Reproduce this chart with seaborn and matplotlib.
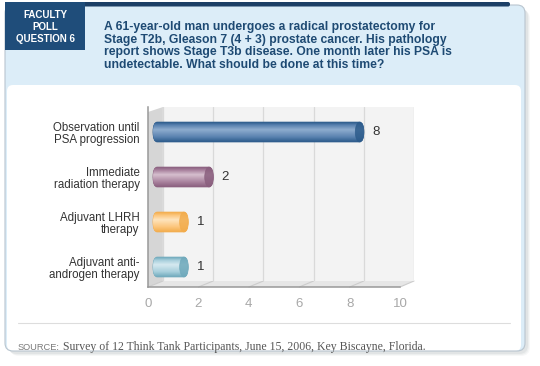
import numpy as np
import matplotlib
matplotlib.use("Agg")
import matplotlib.pyplot as plt
import seaborn as sns
from matplotlib.patches import FancyBboxPatch, Rectangle, Polygon, Ellipse
from matplotlib.colors import LinearSegmentedColormap

# data
categories = ["Observation until\nPSA progression", "Immediate\nradiation therapy",
              "Adjuvant LHRH\ntherapy", "Adjuvant anti-\nandrogen therapy"]
votes = [8, 2, 1, 1]
x_ticks = [0, 2, 4, 6, 8, 10]

# cylinder shades: dark edge, body, highlight
bar_base = ["#5a82b0", "#a9829e", "#fcc67c", "#a6cedb"]
bar_dark = ["#2c5b8b", "#8a5f7e", "#f2ac4c", "#6fa9bb"]
bar_light = ["#8eacce", "#d6bfce", "#fee4bd", "#d5e9f0"]

question = ("A 61-year-old man undergoes a radical prostatectomy for\n"
            "Stage T2b, Gleason 7 (4 + 3) prostate cancer. His pathology\n"
            "report shows Stage T3b disease. One month later his PSA is\n"
            "undetectable. What should be done at this time?")

sns.set_theme(style="white")
plt.rcParams["font.family"] = ["Liberation Sans", "DejaVu Sans"]

W, H = 540, 366
fig = plt.figure(figsize=(W / 100, H / 100), dpi=100)


def rect_px(x0, y0, x1, y1):
    return [x0 / W, 1 - y1 / H, (x1 - x0) / W, (y1 - y0) / H]


# background canvas in pixel units
bg = fig.add_axes([0, 0, 1, 1], zorder=0)
bg.set_xlim(0, W)
bg.set_ylim(H, 0)
bg.axis("off")

# card shadow
for i, a in enumerate([0.06, 0.08, 0.1]):
    d = 5 - i
    bg.add_patch(FancyBboxPatch((5 + d, 5 + d), 520, 346,
                                boxstyle="round,pad=0,rounding_size=9",
                                fc="#808890", ec="none", alpha=a))
bg.add_patch(FancyBboxPatch((5, 5), 520, 346, boxstyle="round,pad=0,rounding_size=8",
                            fc="#dcedf8", ec="none"))
bg.add_patch(FancyBboxPatch((7, 85), 514, 266, boxstyle="round,pad=0,rounding_size=6",
                            fc="white", ec="none"))
bg.add_patch(FancyBboxPatch((5, 5), 520, 346, boxstyle="round,pad=0,rounding_size=8",
                            fc="none", ec="#b9c5cf", lw=0.8))
bg.add_patch(FancyBboxPatch((5, 2), 505, 4.5, boxstyle="round,pad=0,rounding_size=2",
                            fc="#1c3f66", ec="none"))
bg.add_patch(Rectangle((5, 2), 80, 48, fc="#1f4d7a", ec="none"))

bg.text(45, 27, "FACULTY\nPOLL\nQUESTION 6", color="white", fontsize=7, fontweight="bold",
        ha="center", va="center", linespacing=1.25)
bg.text(104, 46, question, color="#1e4a73", fontsize=8.7, fontweight="bold",
        ha="left", va="center", linespacing=1.1)

# 3D wall and floor of the chart
front_x0, front_x1, back_x0, back_x1 = 148, 400, 163, 414
bg.add_patch(Polygon([(148, 112), (163, 107), (163, 281), (148, 287)], fc="#d6d6d6", ec="none"))
bg.add_patch(Polygon([(148, 287), (163, 281), (414, 281), (400, 287)], fc="#e6e6e6", ec="none"))
for t in x_ticks:
    fx = front_x0 + (front_x1 - front_x0) * t / 10
    bx = back_x0 + (back_x1 - back_x0) * t / 10
    bg.plot([fx, bx], [287, 281], color="#cccccc", lw=0.8)

# separator and source line
bg.plot([18, 510], [323, 323], color="#dddddd", lw=0.8)
src = bg.text(18, 347, "SOURCE:", color="#7a7a7a", fontsize=6.7, ha="left", va="center")
bg.annotate("Survey of 12 Think Tank Participants, June 15, 2006, Key Biscayne, Florida.",
            xy=(1, 0.5), xycoords=src, xytext=(2.5, 0), textcoords="offset points",
            ha="left", va="center", fontsize=8.5, color="#555555",
            family=["Liberation Serif", "DejaVu Serif"])

# back plane axes with the cylinders
ax = fig.add_axes(rect_px(148, 107, 414, 281), zorder=1)
ax.set_facecolor("none")
sns.barplot(x=votes, y=categories, hue=categories, palette=bar_base, legend=False,
            orient="h", width=0.44, ax=ax)
ax.axvspan(0, 10, color="#f3f3f3", zorder=0)

rects = [p for c in ax.containers for p in c]
for p, base, dark, light in zip(rects, bar_base, bar_dark, bar_light):
    x, y, w, h = p.get_x(), p.get_y(), p.get_width(), p.get_height()
    p.set_visible(False)
    shape = FancyBboxPatch((x - 0.4, y), w + 0.4, h,
                           boxstyle="round,pad=0,rounding_size=0.17", mutation_aspect=1.3,
                           fc=base, ec=dark, lw=0.6, zorder=3)
    ax.add_patch(shape)
    cmap = LinearSegmentedColormap.from_list("cyl", [(0, dark), (0.15, base), (0.38, light),
                                                     (0.75, base), (1, dark)])
    grad = np.linspace(0, 1, 64).reshape(-1, 1)
    im = ax.imshow(grad, cmap=cmap, extent=(x - 0.4, x + w, y + h, y), aspect="auto",
                   origin="upper", zorder=3.5)
    im.set_clip_path(shape)
    ax.add_patch(Ellipse((x + w - 0.17, y + h / 2), 0.34, h, fc=dark, ec=dark,
                         lw=0.5, alpha=0.85, zorder=4))

for c in ax.containers:
    ax.bar_label(c, padding=6, fontsize=9.5, color="#333333")

ax.set_xticks(x_ticks)
ax.grid(axis="x", color="#d9d9d9", lw=0.9)
ax.grid(axis="y", visible=False)
ax.set_axisbelow(True)
ax.tick_params(length=0, labelbottom=False, labelleft=False)
ax.set_xlabel("")
ax.set_ylabel("")
ax.set_xlim(-0.6, 10)
ax.set_ylim(3.311, -0.556)
sns.despine(ax=ax, left=True, bottom=True)

# front axes carrying the scale and category labels
axf = fig.add_axes(rect_px(148, 107, 400, 287), zorder=2)
axf.set_facecolor("none")
axf.set_xlim(0, 10)
axf.set_ylim(3.444, -0.556)
axf.set_xticks(x_ticks)
axf.set_yticks(range(len(categories)))
axf.set_yticklabels(categories, fontsize=8.3, color="#333333", linespacing=1.1)
axf.set_yticks([0.5, 1.5, 2.5], minor=True)
axf.tick_params(axis="y", which="major", length=0, pad=6)
axf.tick_params(axis="y", which="minor", length=5, width=1, color="#999999", direction="out")
axf.tick_params(axis="x", length=5, width=1, color="#999999", direction="out",
                labelsize=9.5, labelcolor="#a8a8a8", pad=3)
axf.grid(False)
for s in ["top", "right"]:
    axf.spines[s].set_visible(False)
for s in ["left", "bottom"]:
    axf.spines[s].set_color("#999999")
    axf.spines[s].set_linewidth(1.1)

fig.savefig("out.png", dpi=100, facecolor="white")
